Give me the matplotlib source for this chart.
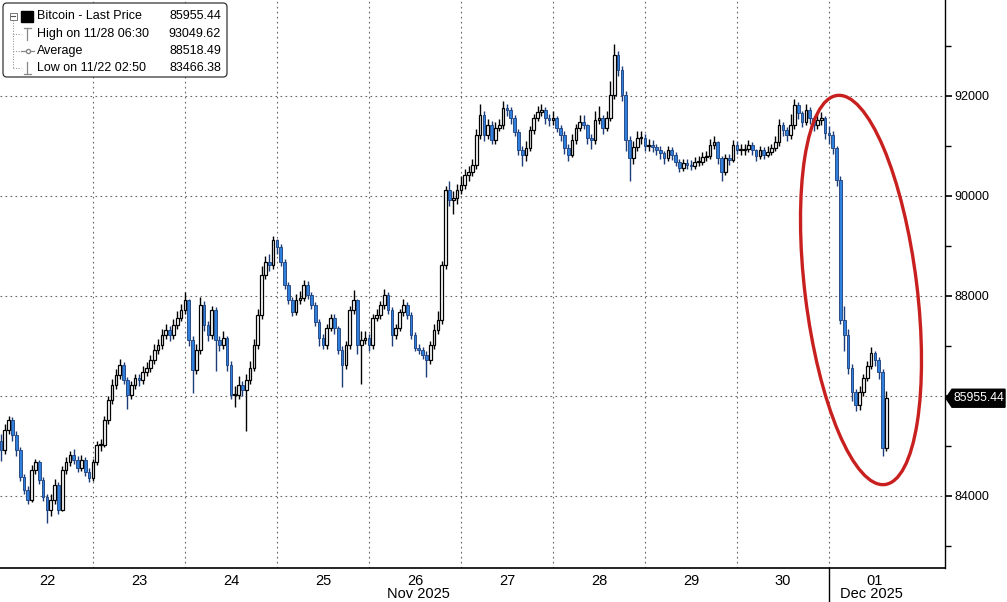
import matplotlib.pyplot as plt
import matplotlib.transforms as mtransforms
from matplotlib.patches import Ellipse, FancyBboxPatch, Rectangle, Polygon
from matplotlib.lines import Line2D
import numpy as np

# hourly Bitcoin candles, Nov 22 00:00 -> Dec 01 ~15:00
first_open = 85100

close_22 = [84920, 85320, 85520, 85220, 84920, 84380, 84120, 83920, 84520, 84680, 84320, 83980,
            83720, 83920, 84220, 83720, 84520, 84680, 84820, 84720, 84560, 84720, 84480, 84360]
close_23 = [84680, 85020, 85020, 85520, 85920, 86220, 86420, 86620, 86320, 86020, 86220, 86360,
            86320, 86480, 86560, 86720, 86920, 87020, 87220, 87320, 87220, 87420, 87560, 87720]
close_24 = [87920, 87120, 86520, 86920, 87820, 87420, 87220, 87720, 87120, 87020, 87160, 86620,
            86020, 86020, 86220, 86120, 86320, 86560, 87020, 87620, 88420, 88680, 88620, 89120]
close_25 = [88980, 88680, 88220, 87920, 87680, 87920, 87960, 88220, 88020, 87820, 87480, 87160,
            87020, 87360, 87560, 87360, 86920, 86620, 87020, 87720, 87920, 87020, 87120, 87160]
close_26 = [87020, 87560, 87620, 87820, 88020, 87720, 87220, 87360, 87680, 87820, 87620, 87220,
            86960, 86920, 86820, 86720, 87020, 87320, 87520, 88620, 90120, 89920, 89960, 90120]
close_27 = [90220, 90420, 90480, 90620, 91220, 91620, 91220, 91420, 91120, 91360, 91420, 91760,
            91720, 91560, 91280, 90920, 90820, 90960, 91320, 91560, 91680, 91720, 91560, 91520]
close_28 = [91560, 91360, 91220, 90960, 90820, 91120, 91360, 91480, 91420, 91160, 91120, 91520,
            91560, 91360, 91560, 92020, 92820, 92520, 92020, 91120, 90760, 90980, 91160, 91160]
close_29 = [91000, 91020, 90980, 90920, 90860, 90760, 90920, 90820, 90680, 90560, 90660, 90620,
            90600, 90680, 90680, 90780, 90800, 91020, 91080, 90760, 90480, 90760, 90720, 91020]
close_30 = [90920, 90920, 90940, 91020, 90920, 90800, 90920, 90820, 90880, 90960, 91080, 91420,
            91320, 91220, 91420, 91820, 91660, 91480, 91720, 91560, 91420, 91520, 91560, 91260]
close_01 = [91220, 90960, 90320, 87520, 87220, 86560, 86080, 85820, 86080, 86360, 86600, 86860,
            86720, 86480, 84960, 85955.44]

high_22 = [85250, 85450, 85600, 85580, 85300, 84980, 84450, 84200, 84620, 84750, 84720, 84380,
           84050, 84050, 84350, 84280, 84600, 84780, 84900, 84950, 84800, 84820, 84780, 84560]
high_23 = [84750, 85100, 85150, 85600, 86000, 86350, 86550, 86750, 86680, 86380, 86300, 86450,
           86450, 86600, 86680, 86820, 87050, 87150, 87350, 87450, 87400, 87550, 87700, 87850]
high_24 = [88080, 87950, 87200, 87050, 87980, 87900, 87500, 87800, 87780, 87200, 87300, 87200,
           86700, 86200, 86400, 86300, 86450, 86700, 87150, 87750, 88600, 88800, 88850, 89200]
high_25 = [89150, 89050, 88750, 88280, 87980, 88050, 88100, 88320, 88300, 88080, 87880, 87550,
           87250, 87450, 87650, 87650, 87400, 87000, 87100, 87800, 88120, 87950, 87300, 87300]
high_26 = [87250, 87650, 87750, 87900, 88150, 88080, 87780, 87450, 87750, 87950, 87880, 87680,
           87280, 87050, 86980, 86900, 87100, 87450, 87700, 88700, 90200, 90300, 90100, 90250]
high_27 = [90400, 90550, 90600, 90750, 91350, 91850, 91700, 91550, 91500, 91480, 91550, 91900,
           91850, 91780, 91620, 91350, 91000, 91100, 91400, 91650, 91800, 91850, 91780, 91650]
high_28 = [91700, 91600, 91420, 91300, 91050, 91250, 91450, 91620, 91620, 91450, 91250, 91700,
           91800, 91620, 91700, 92300, 93049.62, 92900, 92600, 92100, 91200, 91100, 91300, 91300]
high_29 = [91250, 91150, 91120, 91050, 91000, 90900, 91000, 90980, 90880, 90750, 90750, 90750,
           90720, 90780, 90800, 90880, 90900, 91150, 91200, 91100, 90800, 90850, 90850, 91120]
high_30 = [91100, 91050, 91050, 91120, 91080, 90950, 91000, 90980, 91000, 91050, 91200, 91550,
           91480, 91380, 91650, 91950, 91880, 91700, 91850, 91780, 91600, 91650, 91680, 91600]
high_01 = [91400, 91300, 91000, 90400, 87800, 87350, 86650, 86150, 86200, 86450, 86700, 86980,
           86900, 86780, 86550, 86100]

low_22 = [84700, 84850, 85250, 85100, 84800, 84300, 84050, 83850, 83880, 84450, 84250, 83900,
          83466.38, 83600, 83850, 83650, 83700, 84450, 84600, 84650, 84480, 84500, 84400, 84280]
low_23 = [84300, 84620, 84900, 84980, 85450, 85850, 86150, 86350, 86250, 85750, 85950, 86150,
          86200, 86250, 86400, 86480, 86650, 86850, 86950, 87150, 87100, 87150, 87350, 87500]
low_24 = [87650, 87000, 86060, 86450, 86850, 87300, 87100, 87150, 86500, 86900, 86950, 86500,
          85950, 85780, 85950, 86000, 85300, 86250, 86500, 86950, 87550, 88350, 88500, 88550]
low_25 = [88850, 88600, 88150, 87850, 87600, 87620, 87850, 87900, 87950, 87750, 87400, 87000,
          86950, 86950, 87300, 87250, 86850, 86180, 86550, 86950, 87650, 86850, 86250, 87050]
low_26 = [86900, 86950, 87500, 87550, 87750, 87650, 87000, 87150, 87300, 87600, 87550, 87150,
          86900, 86850, 86750, 86380, 86650, 86950, 87250, 87450, 88550, 89800, 89650, 89850]
low_27 = [90050, 90150, 90300, 90400, 90550, 91150, 91100, 91150, 91050, 91050, 91300, 91350,
          91600, 91450, 91200, 90820, 90600, 90700, 90900, 91250, 91500, 91600, 91450, 91400]
low_28 = [91420, 91280, 91100, 90850, 90700, 90780, 91050, 91300, 91350, 91050, 90950, 91050,
          91450, 91250, 91300, 91500, 91950, 92400, 91900, 90900, 90300, 90650, 90900, 91050]
low_29 = [90900, 90900, 90880, 90820, 90750, 90650, 90700, 90720, 90600, 90480, 90500, 90550,
          90520, 90550, 90600, 90620, 90700, 90750, 90950, 90650, 90300, 90420, 90620, 90680]
low_30 = [90850, 90820, 90820, 90880, 90820, 90700, 90750, 90750, 90780, 90820, 90900, 91000,
          91200, 91100, 91150, 91350, 91550, 91380, 91420, 91450, 91300, 91350, 91420, 91150]
low_01 = [91050, 90850, 90200, 87450, 86900, 86450, 85900, 85700, 85720, 86000, 86300, 86550,
          86600, 86350, 84800, 84900]

day_labels = ['22', '23', '24', '25', '26', '27', '28', '29', '30', '01']
y_major = [84000, 86000, 88000, 90000, 92000]
y_labels = ['84000', '', '88000', '90000', '92000']

legend_rows = [('Bitcoin - Last Price', '85955.44'),
               ('High on 11/28 06:30', '93049.62'),
               ('Average', '88518.49'),
               ('Low on 11/22 02:50', '83466.38')]
last_price = 85955.44

close = np.array(close_22 + close_23 + close_24 + close_25 + close_26 + close_27 +
                 close_28 + close_29 + close_30 + close_01)
high = np.array(high_22 + high_23 + high_24 + high_25 + high_26 + high_27 +
                high_28 + high_29 + high_30 + high_01)
low = np.array(low_22 + low_23 + low_24 + low_25 + low_26 + low_27 +
               low_28 + low_29 + low_30 + low_01)
opn = np.concatenate([[first_open], close[:-1]])
high = np.maximum(high, np.maximum(opn, close))
low = np.minimum(low, np.minimum(opn, close))
hours = np.arange(len(close))

W, H = 1007, 602
fig = plt.figure(figsize=(W / 100, H / 100), dpi=100)
ax = fig.add_axes([0, 34 / H, 945 / W, 568 / H])

up = close >= opn
blue = '#2f7fdc'
edge_dn = '#1c3d78'
# wicks
ax.vlines(hours[up], low[up], high[up], color='black', lw=1.0, zorder=2)
ax.vlines(hours[~up], low[~up], high[~up], color=edge_dn, lw=1.0, zorder=2)
# bodies
body_lo = np.minimum(opn, close)
body_h = np.maximum(np.abs(close - opn), 15)
ax.bar(hours[up], body_h[up], bottom=body_lo[up], width=0.7,
       color='white', edgecolor='black', linewidth=0.9, zorder=3)
ax.bar(hours[~up], body_h[~up], bottom=body_lo[~up], width=0.7,
       color=blue, edgecolor=edge_dn, linewidth=0.6, zorder=3)

ax.set_xlim(-0.26, 246.3)
ax.set_ylim(82560, 93920)

# grid
for v in y_major:
    ax.axhline(v, color='#666666', lw=0.8, ls=(0, (1.5, 3)), zorder=1)
for k in range(1, 10):
    ax.axvline(24 * k, color='#666666', lw=0.8, ls=(0, (1.5, 3)), zorder=1)

for s in ['left', 'top']:
    ax.spines[s].set_visible(False)
ax.spines['right'].set_linewidth(1.0)
ax.spines['bottom'].set_linewidth(1.2)

ax.yaxis.tick_right()
ax.set_yticks(y_major)
ax.set_yticklabels(y_labels)
ax.set_yticks(np.arange(83000, 94000, 2000), minor=True)
ax.tick_params(axis='y', which='major', length=5, width=1.2, pad=2,
               labelsize=9, labelfontfamily='Liberation Sans', colors='black')
ax.tick_params(axis='y', which='minor', length=4, width=1)

ax.set_xticks([24 * k + 12 for k in range(10)])
ax.set_xticklabels(day_labels)
ax.tick_params(axis='x', length=0, pad=4, labelsize=10.5, labelfontfamily='Liberation Sans')

xt = ax.get_xaxis_transform()
ax.text(108.8, -0.046, 'Nov 2025', transform=xt, ha='center', va='center',
        fontsize=10.5, family='Liberation Sans')
ax.text(227, -0.046, 'Dec 2025', transform=xt, ha='center', va='center',
        fontsize=10.5, family='Liberation Sans')
ax.plot([216, 216], [0, -0.062], transform=xt, color='black', lw=1, clip_on=False)

ident = mtransforms.IdentityTransform()


def px(x, y):
    return x, H - y


# last price tag at the right axis
tag_y = H - (34 + (last_price - 82560) / (93920 - 82560) * 568)
fig.add_artist(Polygon([px(946, tag_y), px(952, tag_y - 9), px(1005, tag_y - 9),
                        px(1005, tag_y + 9), px(952, tag_y + 9)], closed=True,
                       fc='black', ec='black', transform=ident, zorder=10))
fig.text(954, H - tag_y, f'{last_price:.2f}', transform=ident, ha='left', va='center',
         color='white', fontsize=8.8, family='Liberation Sans', zorder=11)

# red ellipse
fig.add_artist(Ellipse(px(861, 290), 112, 392, angle=7, fill=False,
                       ec='#c8201e', lw=2.4, transform=ident))

# legend box
fig.add_artist(FancyBboxPatch(px(3, 77), 224, 74, boxstyle='round,pad=0,rounding_size=4',
                              fc='white', ec='#333333', lw=0.9, transform=ident, zorder=5))
row_y = [16, 34, 51, 68]
gray = '#888888'
fig.add_artist(Line2D([13, 13], [H - 20, H - 68], color=gray, lw=0.7, ls=':',
                      transform=ident, zorder=6))
for yy in row_y[1:]:
    fig.add_artist(Line2D([13, 21], [H - yy, H - yy], color=gray, lw=0.7, ls=':',
                          transform=ident, zorder=6))
fig.add_artist(Rectangle(px(9.5, 19.5), 7, 7, fill=False, ec='#777777', lw=0.7,
                         transform=ident, zorder=6))
fig.add_artist(Line2D([11, 15], [H - 16, H - 16], color='#555555', lw=0.8,
                      transform=ident, zorder=6))
fig.add_artist(Rectangle(px(21, 21.5), 12, 11, fc='black', ec='black',
                         transform=ident, zorder=6))
fig.add_artist(Line2D([23.5, 30.5], [H - 28, H - 28], color=gray, lw=0.9, transform=ident, zorder=6))
fig.add_artist(Line2D([27, 27], [H - 28, H - 40], color=gray, lw=0.9, transform=ident, zorder=6))
fig.add_artist(Line2D([21, 34], [H - 51, H - 51], color=gray, lw=0.9, transform=ident, zorder=6))
fig.add_artist(Line2D([27.5], [H - 51], color=gray, marker='o', ms=3, mfc='white', mec=gray,
                      transform=ident, zorder=7))
fig.add_artist(Line2D([27, 27], [H - 62, H - 74], color=gray, lw=0.9, transform=ident, zorder=6))
fig.add_artist(Line2D([23.5, 30.5], [H - 74, H - 74], color=gray, lw=0.9, transform=ident, zorder=6))
for (name, val), yy in zip(legend_rows, row_y):
    fig.text(37, H - yy, name, transform=ident, ha='left', va='center', fontsize=9,
             family='Liberation Sans', zorder=7)
    fig.text(221, H - yy, val, transform=ident, ha='right', va='center', fontsize=9,
             family='Liberation Sans', zorder=7)

fig.savefig('out.png', dpi=100)
